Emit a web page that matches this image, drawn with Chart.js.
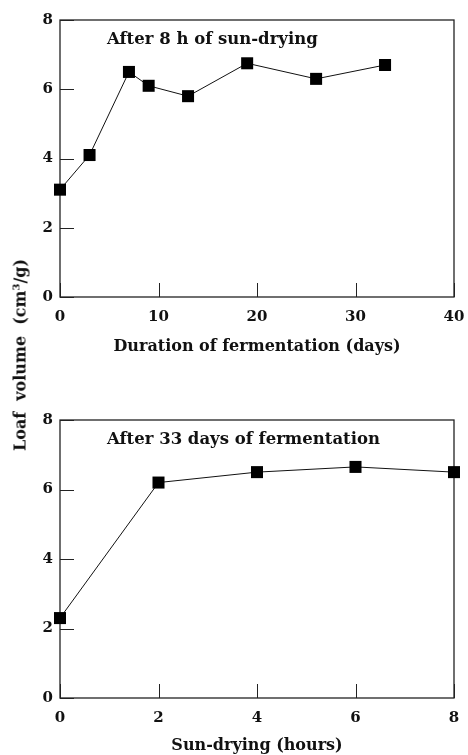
<!DOCTYPE html>
<html>
<head>
<meta charset="utf-8">
<script src="https://cdn.jsdelivr.net/npm/chart.js@4/dist/chart.umd.min.js"></script>
<style>
  html, body { margin: 0; padding: 0; background: #fff; }
  #wrap { position: relative; width: 468px; height: 755px; }
  canvas { position: absolute; left: 0; }
  #c1 { top: 0; }
  #c2 { top: 400px; }
  #ylabel {
    position: absolute; left: 20px; top: 355px;
    transform: translate(-50%, -50%) rotate(-90deg);
    white-space: nowrap; color: #111;
    font: bold 16px "DejaVu Serif", serif;
  }
  #ylabel sup { font-size: 10px; vertical-align: 6px; line-height: 0; }
</style>
</head>
<body>
<div id="wrap">
  <canvas id="c1" width="468" height="360"></canvas>
  <canvas id="c2" width="468" height="355"></canvas>
  <div id="ylabel">Loaf&nbsp; volume&nbsp; (cm<sup>3</sup>/g)</div>
</div>
<script>
// loaf volume vs. fermentation time (after 8 h sun-drying)
const fermentDays = [0, 3, 7, 9, 13, 19, 26, 33];
const volumeByDays = [3.1, 4.1, 6.5, 6.1, 5.8, 6.75, 6.3, 6.7];

// loaf volume vs. sun-drying time (after 33 days fermentation)
const dryingHours = [0, 2, 4, 6, 8];
const volumeByHours = [2.3, 6.2, 6.5, 6.65, 6.5];

const volumeTicks = [0, 2, 4, 6, 8];
const daysTicks = [0, 10, 20, 30, 40];
const hoursTicks = [0, 2, 4, 6, 8];

const FONT = "'DejaVu Serif', serif";
const INK = '#111';

// box around the plot, inward tick marks and the in-plot caption
const framePlugin = {
  id: 'frame',
  beforeDatasetsDraw(chart, args, opts) {
    const { ctx, chartArea: a, scales } = chart;
    ctx.save();
    ctx.strokeStyle = '#222';
    ctx.lineWidth = 1.3;
    ctx.strokeRect(a.left, a.top, a.right - a.left, a.bottom - a.top);
    ctx.lineWidth = 1;
    ctx.beginPath();
    scales.y.ticks.forEach(t => {
      const y = Math.round(scales.y.getPixelForValue(t.value)) + 0.5;
      ctx.moveTo(a.left, y);
      ctx.lineTo(a.left + 14, y);
    });
    scales.x.ticks.forEach(t => {
      const x = Math.round(scales.x.getPixelForValue(t.value)) + 0.5;
      ctx.moveTo(x, a.bottom);
      ctx.lineTo(x, a.bottom - 14);
    });
    ctx.stroke();
    ctx.fillStyle = INK;
    ctx.font = 'bold 16.5px ' + FONT;
    ctx.textBaseline = 'middle';
    ctx.fillText(opts.note, a.left + 47, a.top + 20);
    ctx.restore();
  }
};

function makeChart(id, xs, ys, xTicks, xMax, xTitle, note, axisHeight, titlePad) {
  return new Chart(document.getElementById(id), {
    type: 'line',
    data: {
      datasets: [{
        data: xs.map((x, i) => ({ x, y: ys[i] })),
        borderColor: INK,
        borderWidth: 1,
        backgroundColor: '#000',
        pointStyle: 'rect',
        pointRadius: 8.5,
        pointBorderWidth: 0,
        clip: false,
      }],
    },
    options: {
      responsive: false,
      animation: false,
      layout: { padding: { top: 20, right: 14, left: 0, bottom: 0 } },
      plugins: {
        legend: { display: false },
        tooltip: { enabled: false },
        frame: { note },
      },
      scales: {
        x: {
          type: 'linear', min: 0, max: xMax,
          afterBuildTicks: s => { s.ticks = xTicks.map(v => ({ value: v })); },
          afterFit: s => { s.height = axisHeight; s.paddingLeft = 0; s.paddingRight = 0; },
          grid: { display: false, drawTicks: false },
          border: { display: false },
          ticks: { color: INK, padding: 11, font: { family: FONT, size: 15, weight: 'bold' } },
          title: {
            display: true, text: xTitle, color: INK,
            font: { family: FONT, size: 16, weight: 'bold' },
            padding: { top: 0, bottom: titlePad },
          },
        },
        y: {
          min: 0, max: 8,
          afterBuildTicks: s => { s.ticks = volumeTicks.map(v => ({ value: v })); },
          afterFit: s => { s.width = 60; s.paddingTop = 0; s.paddingBottom = 0; },
          grid: { display: false, drawTicks: false },
          border: { display: false },
          ticks: { color: INK, padding: 7, font: { family: FONT, size: 15, weight: 'bold' } },
        },
      },
    },
    plugins: [framePlugin],
  });
}

makeChart('c1', fermentDays, volumeByDays, daysTicks, 40,
  'Duration of fermentation (days)', 'After 8 h of sun-drying', 63, 4);
makeChart('c2', dryingHours, volumeByHours, hoursTicks, 8,
  'Sun-drying (hours)', 'After 33 days of fermentation', 57, 0);
</script>
</body>
</html>
